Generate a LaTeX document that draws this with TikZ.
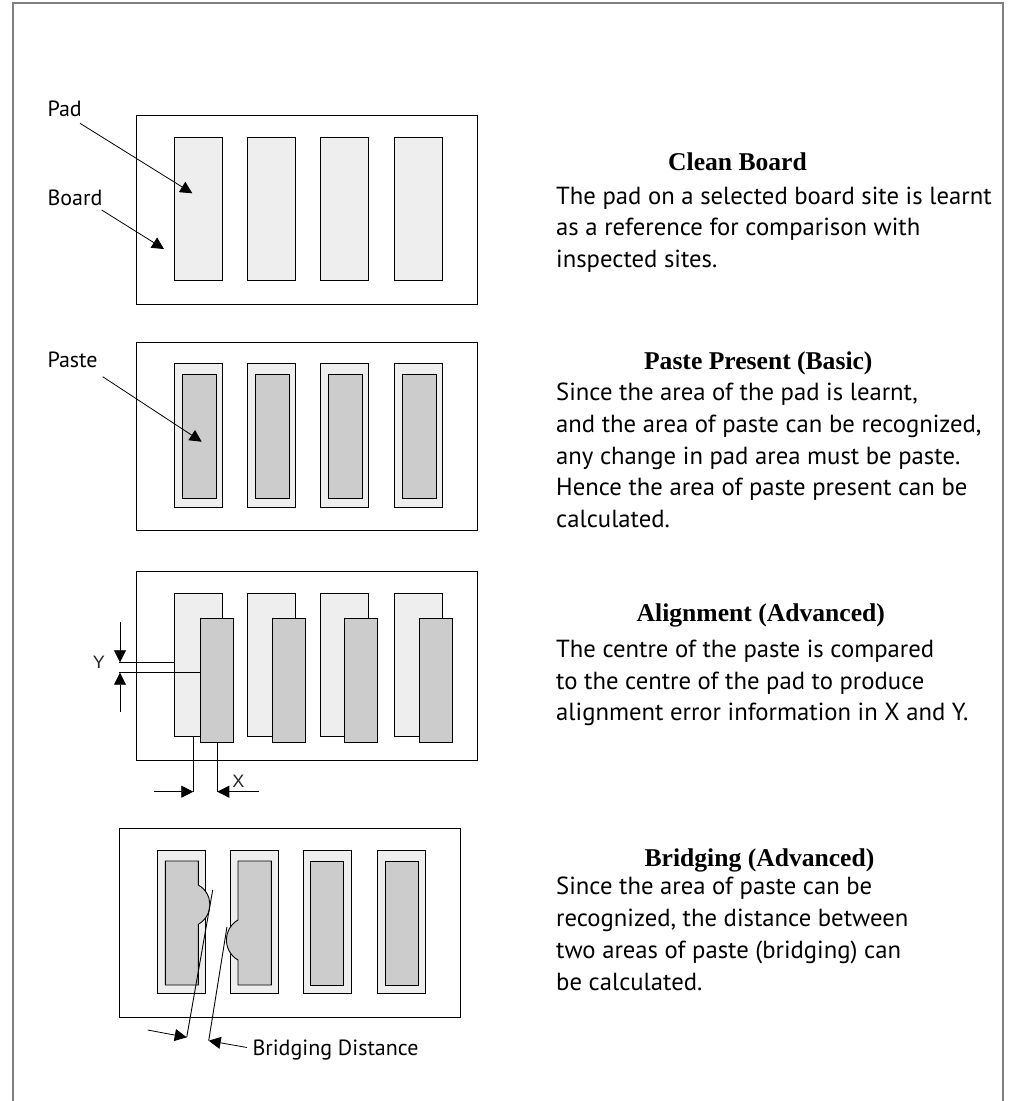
\documentclass[tikz,border=0pt]{standalone}
\usepackage{fontspec}
\setmainfont{Liberation Serif}
\newfontfamily\handf{PT Sans}
\newfontfamily\arialf{Liberation Sans}
\usetikzlibrary{arrows.meta}
\definecolor{padgray}{HTML}{EEEEEE}
\definecolor{pastegray}{HTML}{CCCCCC}
\definecolor{framegray}{HTML}{808080}
\newcommand{\rbox}[6]{\node[#1, minimum width={(#5)-(#3)}, minimum height={(#6)-(#4)}] (#2) at ({((#3)+(#5))/2},{((#4)+(#6))/2}) {};}
\tikzset{
  board/.style={draw=black, line width=1pt, fill=white, inner sep=0pt, outer sep=0pt},
  pad/.style={draw=black, line width=0.9pt, fill=padgray, inner sep=0pt, outer sep=0pt},
  paste/.style={draw=black, line width=0.9pt, fill=pastegray, inner sep=0pt, outer sep=0pt},
  leader/.style={line width=0.8pt, -{Triangle[length=12pt,width=12pt]}},
  extline/.style={line width=0.9pt},
  heading/.style={font=\fontsize{25.6}{30}\selectfont\bfseries, inner sep=0pt, anchor=base},
  body/.style={font=\handf\fontsize{24.7}{30}\selectfont, inner sep=0pt, anchor=base west},
  lbl/.style={font=\handf\fontsize{22}{26}\selectfont, inner sep=0pt, anchor=base west},
  dimlbl/.style={font=\arialf\fontsize{18}{22}\selectfont, inner sep=0pt, text=black!85}
}
\begin{document}
\begin{tikzpicture}[x=1pt,y=-1pt]
\useasboundingbox (0,0) rectangle (1009,1101);
% outer frame
\draw[framegray, line width=1.5pt] (13,1101) -- (13,3) -- (1003,3) -- (1003,1101);

% ---------- Panel 1: Clean Board ----------
\rbox{board}{b1}{136.3}{115}{477.3}{304}
\foreach \i/\x in {1/174.3,2/247.3,3/320.3,4/394.3}{
  \rbox{pad}{pa\i}{\x}{137.3}{\x+48}{280.3}
}
\node[lbl] (lpad) at (47.3,116) {Pad};
\node[lbl] (lboard) at (47.3,205) {Board};
\coordinate (lpads) at (80,123.3);
\coordinate (lpadt) at (192.3,193.3);
\coordinate (lboards) at (101.7,210);
\coordinate (lboardt) at (164,249);
\draw[leader] (lpads) -- (lpadt);
\draw[leader] (lboards) -- (lboardt);

\node[heading] (h1) at (737.5,170) {Clean Board};
\node[body] (t11) at (556,204) {The pad on a selected board site is learnt};
\node[body] (t12) at (556,235.7) {as a reference for comparison with};
\node[body] (t13) at (556,267.4) {inspected sites.};

% ---------- Panel 2: Paste Present ----------
\rbox{board}{b2}{136.3}{342}{477.3}{530.7}
\foreach \i/\x in {1/174.3,2/247.3,3/320.3,4/394.3}{
  \rbox{pad}{pb\i}{\x}{363.7}{\x+48}{507.3}
  \rbox{paste}{qb\i}{\x+7.7}{374}{\x+41.7}{498.7}
}
\node[lbl] (lpaste) at (47.3,367) {Paste};
\coordinate (lpastes) at (102.7,376.7);
\coordinate (lpastet) at (201.7,441.7);
\draw[leader] (lpastes) -- (lpastet);

\node[heading] (h2) at (758.3,369.3) {Paste Present (Basic)};
\node[body] (t21) at (556,400.7) {Since the area of the pad is learnt,};
\node[body] (t22) at (556,432.4) {and the area of paste can be recognized,};
\node[body] (t23) at (556,464.1) {any change in pad area must be paste.};
\node[body] (t24) at (556,495.8) {Hence the area of paste present can be};
\node[body] (t25) at (556,527.5) {calculated.};

% ---------- Panel 3: Alignment ----------
\rbox{board}{b3}{136.3}{571}{477.3}{760.3}
\foreach \i/\x/\p in {1/174.7/200.3,2/247.3/272,3/320.3/344.3,4/394.3/419.3}{
  \rbox{pad}{pc\i}{\x}{593}{\x+48}{736}
  \rbox{paste}{qc\i}{\p}{618}{\p+33.5}{742.3}
}
% Y dimension
\coordinate (ya) at (119.3,662.3);
\coordinate (yb) at (119.3,672.7);
\draw[extline] (ya) -- (pc1.west |- ya);
\draw[extline] (yb) -- (qc1.west |- yb);
\coordinate (yat) at (120,622);
\coordinate (ybt) at (120,712.3);
\draw[leader] (yat) -- (120,662.3);
\draw[leader] (ybt) -- (120,672.7);
\node[dimlbl] (ylab) at (99,662) {Y};
% X dimension
\coordinate (xa) at (193.3,791.7);
\coordinate (xb) at (217.3,791.7);
\draw[extline] (193.3,736) -- (xa);
\draw[extline] (217.3,742.3) -- (xb);
\coordinate (xas) at (154,791.7);
\coordinate (xbs) at (259,791.7);
\draw[leader] (xas) -- (xa);
\draw[leader] (xbs) -- (xb);
\node[dimlbl] (xlab) at (238.3,781.5) {X};

\node[heading] (h3) at (760.8,621.7) {Alignment (Advanced)};
\node[body] (t31) at (556,657.3) {The centre of the paste is compared};
\node[body] (t32) at (556,689) {to the centre of the pad to produce};
\node[body] (t33) at (556,720.7) {alignment error information in X and Y.};

% ---------- Panel 4: Bridging ----------
\rbox{board}{b4}{119.3}{828.3}{460.7}{1017.7}
\foreach \i/\x in {1/157.3,2/230.3,3/303.3,4/377.3}{
  \rbox{pad}{pd\i}{\x}{850.7}{\x+48}{993.7}
}
\foreach \i/\x in {3/310.3,4/385.3}{
  \rbox{paste}{qd\i}{\x}{861}{\x+33.4}{985}
}
\draw[paste] (165.3,861) -- (198.3,861) -- (198.3,885)
  .. controls (213.7,893.7) and (213.7,915.6) .. (198.3,924.3)
  -- (198.3,985) -- (165.3,985) -- cycle;
\draw[paste] (238,861) -- (271.3,861) -- (271.3,985) -- (238,985) -- (238,960)
  .. controls (222.6,951.1) and (222.6,928.9) .. (238,920) -- cycle;
\coordinate (br1a) at (212.7,890);
\coordinate (br1b) at (186.7,1037.3);
\coordinate (br2a) at (227,926.7);
\coordinate (br2b) at (208.7,1040.7);
\draw[extline] (br1a) -- (br1b);
\draw[extline] (br2a) -- (br2b);
\coordinate (bras) at (147.7,1030);
\draw[leader] (bras) -- (br1b);
\node[lbl] (lbd) at (252.3,1055) {Bridging Distance};
\coordinate (brs) at (247,1047.5);
\draw[leader] (brs) -- (br2b);

\node[heading] (h4) at (759.5,866) {Bridging (Advanced)};
\node[body] (t41) at (556,894.3) {Since the area of paste can be};
\node[body] (t42) at (556,926.3) {recognized, the distance between};
\node[body] (t43) at (556,958.3) {two areas of paste (bridging) can};
\node[body] (t44) at (556,990.3) {be calculated.};
\end{tikzpicture}
\end{document}
